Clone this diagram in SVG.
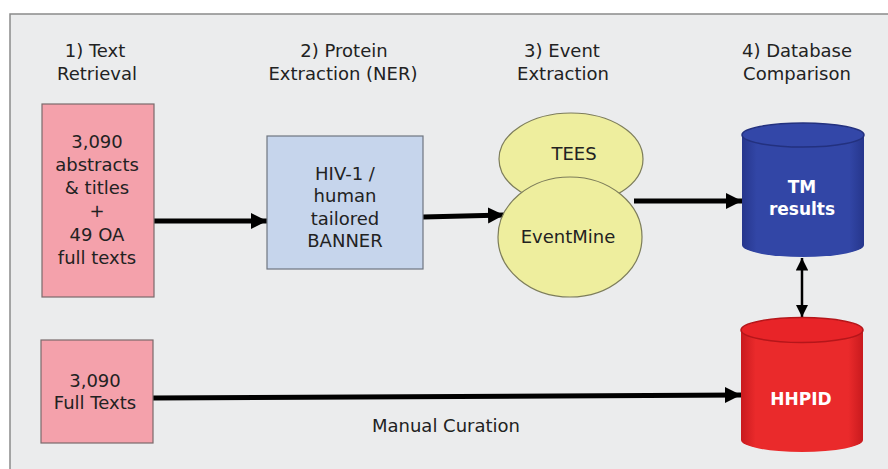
<svg xmlns="http://www.w3.org/2000/svg" width="888" height="469" viewBox="0 0 888 469">
<defs>
<style>
.t{font-family:"DejaVu Sans","Liberation Sans",sans-serif;font-size:18px;fill:#222;text-anchor:middle}
.w{font-family:"DejaVu Sans","Liberation Sans",sans-serif;font-size:17px;font-weight:bold;fill:#fff;text-anchor:middle}
.pink{fill:#f4a1ab;stroke:#7a6a6c;stroke-width:1.2}
.blue{fill:#c6d5ec;stroke:#6f7680;stroke-width:1.2}
.ell{fill:#eeee9e;stroke:#7d7d5a;stroke-width:1.2}
.ln{stroke:#000;stroke-width:5;fill:none}
.ln2{stroke:#000;stroke-width:2.5;fill:none}
</style>
<marker id="ah" viewBox="0 0 10 10" refX="10" refY="5" markerWidth="3.2" markerHeight="3.4" orient="auto" markerUnits="strokeWidth">
<path d="M0,0 L10,5 L0,10 z" fill="#000"/>
</marker>
<marker id="ah2" viewBox="0 0 10 10" refX="10" refY="5" markerWidth="5" markerHeight="5" orient="auto-start-reverse" markerUnits="strokeWidth">
<path d="M0,0 L10,5 L0,10 z" fill="#000"/>
</marker>
<linearGradient id="gb" x1="0" y1="0" x2="1" y2="0">
<stop offset="0" stop-color="#26368c"/>
<stop offset="0.12" stop-color="#3246a6"/>
<stop offset="0.88" stop-color="#3246a6"/>
<stop offset="1" stop-color="#26368c"/>
</linearGradient>
<linearGradient id="gr" x1="0" y1="0" x2="1" y2="0">
<stop offset="0" stop-color="#c81a1e"/>
<stop offset="0.12" stop-color="#ea2a2b"/>
<stop offset="0.88" stop-color="#ea2a2b"/>
<stop offset="1" stop-color="#c81a1e"/>
</linearGradient>
</defs>
<rect x="0" y="0" width="888" height="469" fill="#fff"/>
<rect x="10" y="14" width="890" height="470" fill="#ebeced" stroke="#8a8a8a" stroke-width="1.5"/>

<g id="headers">
<text class="t" x="95" y="57">1) Text</text>
<text class="t" x="97" y="80">Retrieval</text>
<text class="t" x="344" y="57">2) Protein</text>
<text class="t" x="343" y="80">Extraction (NER)</text>
<text class="t" x="562" y="57">3) Event</text>
<text class="t" x="563" y="80">Extraction</text>
<text class="t" x="797" y="57">4) Database</text>
<text class="t" x="797" y="80">Comparison</text>
</g>

<g id="connectors">
<line class="ln" x1="154" y1="221" x2="267" y2="221" marker-end="url(#ah)"/>
<line class="ln" x1="423" y1="217" x2="504" y2="215" marker-end="url(#ah)"/>
<line class="ln" x1="634" y1="201" x2="742" y2="201" marker-end="url(#ah)"/>
<line class="ln2" x1="802" y1="258" x2="802" y2="317" marker-start="url(#ah2)" marker-end="url(#ah2)"/>
<line class="ln" x1="153" y1="398" x2="741" y2="395" marker-end="url(#ah)"/>
</g>

<g id="n-abstracts">
<rect class="pink" x="42" y="104" width="112" height="193"/>
<text class="t" x="97" y="148">3,090</text>
<text class="t" x="97" y="171">abstracts</text>
<text class="t" x="97" y="194">&amp; titles</text>
<text class="t" x="97" y="217">+</text>
<text class="t" x="97" y="241">49 OA</text>
<text class="t" x="97" y="264">full texts</text>
</g>

<g id="n-banner">
<rect class="blue" x="267" y="136" width="156" height="133"/>
<text class="t" x="345" y="180">HIV-1 /</text>
<text class="t" x="345" y="202">human</text>
<text class="t" x="345" y="225">tailored</text>
<text class="t" x="345" y="247">BANNER</text>
</g>

<g id="n-tees">
<ellipse class="ell" cx="571" cy="159" rx="72" ry="46"/>
<text class="t" x="574" y="160">TEES</text>
</g>

<g id="n-eventmine">
<ellipse class="ell" cx="570" cy="237" rx="72" ry="60"/>
<text class="t" x="568" y="243">EventMine</text>
</g>

<g id="n-tm">
<path d="M742,135 L742,245 A61,12 0 0 0 864,245 L864,135 Z" fill="url(#gb)"/>
<ellipse cx="803" cy="135" rx="61" ry="12" fill="#3347a8" stroke="#23317f" stroke-width="1.5"/>
<text class="w" x="802" y="193">TM</text>
<text class="w" x="802" y="215">results</text>
</g>

<g id="n-hhpid">
<path d="M741,330 L741,440 A61,12 0 0 0 863,440 L863,330 Z" fill="url(#gr)"/>
<ellipse cx="802" cy="330" rx="61" ry="12.5" fill="#e82428" stroke="#b5161a" stroke-width="1.5"/>
<text class="w" x="801" y="405">HHPID</text>
</g>

<g id="n-fulltexts">
<rect class="pink" x="41" y="340" width="112" height="103"/>
<text class="t" x="95" y="387">3,090</text>
<text class="t" x="95" y="409">Full Texts</text>
</g>

<text class="t" x="446" y="432">Manual Curation</text>
</svg>
